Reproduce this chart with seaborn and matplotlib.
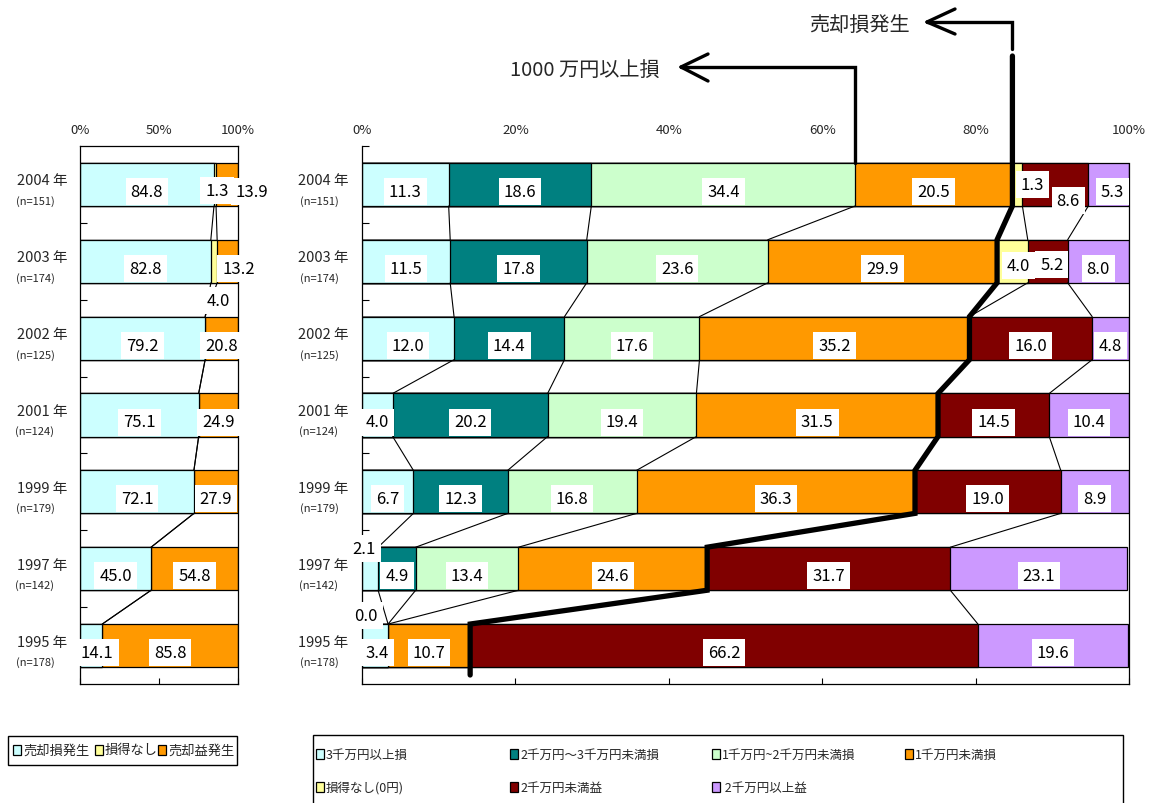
import numpy as np
import pandas as pd
import matplotlib
matplotlib.use("Agg")
import matplotlib.pyplot as plt
import seaborn as sns
from matplotlib.patches import Rectangle

# ---------------- data ----------------
years = ["2004", "2003", "2002", "2001", "1999", "1997", "1995"]
sample_sizes = [151, 174, 125, 124, 179, 142, 178]

left_categories = ["売却損発生", "損得なし", "売却益発生"]
left_loss = [84.8, 82.8, 79.2, 75.1, 72.1, 45.0, 14.1]
left_even = [1.3, 4.0, np.nan, np.nan, np.nan, np.nan, np.nan]
left_gain = [13.9, 13.2, 20.8, 24.9, 27.9, 54.8, 85.8]
left_colors = ["#CCFFFF", "#FFFF99", "#FF9900"]

right_categories = ["3千万円以上損", "2千万円～3千万円未満損", "1千万円~2千万円未満損",
                    "1千万円未満損", "損得なし(0円)", "2千万円未満益", " 2千万円以上益"]
loss_30m_plus = [11.3, 11.5, 12.0, 4.0, 6.7, 2.1, 3.4]
loss_20m_30m = [18.6, 17.8, 14.4, 20.2, 12.3, 4.9, 0.0]
loss_10m_20m = [34.4, 23.6, 17.6, 19.4, 16.8, 13.4, np.nan]
loss_under_10m = [20.5, 29.9, 35.2, 31.5, 36.3, 24.6, 10.7]
even_zero = [1.3, 4.0, np.nan, np.nan, np.nan, np.nan, np.nan]
gain_under_20m = [8.6, 5.2, 16.0, 14.5, 19.0, 31.7, 66.2]
gain_20m_plus = [5.3, 8.0, 4.8, 10.4, 8.9, 23.1, 19.6]
right_colors = ["#CCFFFF", "#008080", "#CCFFCC", "#FF9900", "#FFFF99", "#800000", "#CC99FF"]

left_xticks = [0, 50, 100]
right_xticks = [0, 20, 40, 60, 80, 100]
tick_labels_left = ["0%", "50%", "100%"]
tick_labels_right = ["0%", "20%", "40%", "60%", "80%", "100%"]

annot_loss_big = "1000 万円以上損"
annot_loss = "売却損発生"

# ---------------- style ----------------
sns.set_style("white")
plt.rcParams["font.family"] = ["Noto Sans CJK JP", "DejaVu Sans"]

W, H = 1154, 804
fig = plt.figure(figsize=(W / 100, H / 100), dpi=100)


def fig_rect(x0, y0, x1, y1):
    return [x0 / W, 1 - y1 / H, (x1 - x0) / W, (y1 - y0) / H]


ax_l = fig.add_axes(fig_rect(80, 147, 238, 685))
ax_r = fig.add_axes(fig_rect(362, 147, 1129, 685))

BAR_W = 0.56
HALF = BAR_W / 2

# label offsets (pixels: dx right, dy down) relative to segment centre / bar centre
DEFAULT_OFF = (0, 7)
left_offsets = {(0, 1): (2, 6), (0, 2): (25, 7), (1, 1): (4, 39), (1, 2): (11, 7),
                (6, 0): (6, 7)}
right_offsets = {(0, 4): (15, 0), (0, 5): (13, 16), (0, 6): (4, 7),
                 (1, 4): (6, 4), (1, 5): (4, 3),
                 (5, 0): (-6, -20), (6, 1): (-22, -30), (6, 0): (2, 7)}


def draw_panel(ax, series, colors, offsets):
    vals = np.array(series, dtype=float)
    filled = np.nan_to_num(vals)
    cum = np.cumsum(filled, axis=0)
    ncat = len(series)
    for k in reversed(range(ncat)):
        sub = pd.DataFrame({"year": years, "cum": cum[k]})
        sns.barplot(data=sub, x="cum", y="year", order=years, orient="h",
                    color=colors[k], saturation=1, width=BAR_W,
                    edgecolor="black", linewidth=0.9, errorbar=None, ax=ax, zorder=2)
    # connecting lines
    for k in range(ncat - 1):
        for i in range(len(years) - 1):
            ax.plot([cum[k, i], cum[k, i + 1]], [i + HALF, i + 1 - HALF],
                    color="black", lw=0.8, zorder=3)
    # value labels
    for k in range(ncat):
        for i in range(len(years)):
            v = vals[k, i]
            if np.isnan(v):
                continue
            cx = cum[k, i] - filled[k, i] / 2
            dx, dy = offsets.get((i, k), DEFAULT_OFF)
            ax.annotate(f"{v:.1f}", xy=(cx, i), xytext=(dx, -dy),
                        textcoords="offset pixels", ha="center", va="center",
                        fontsize=12, color="black", zorder=7, annotation_clip=False,
                        bbox=dict(boxstyle="square,pad=0.3", fc="white", ec="none"))
    ax.set_ylim(len(years) - 0.5, -0.5)
    ax.set_xlim(0, 100)
    ax.set_xlabel("")
    ax.set_ylabel("")
    return cum


cum_l = draw_panel(ax_l, [left_loss, left_even, left_gain], left_colors, left_offsets)
cum_r = draw_panel(ax_r, [loss_30m_plus, loss_20m_30m, loss_10m_20m, loss_under_10m,
                          even_zero, gain_under_20m, gain_20m_plus], right_colors, right_offsets)

# axes styling
for ax, ticks, labels in [(ax_l, left_xticks, tick_labels_left),
                          (ax_r, right_xticks, tick_labels_right)]:
    ax.set_xticks(ticks)
    ax.set_xticklabels(labels)
    ax.tick_params(axis="x", top=False, bottom=True, labeltop=True, labelbottom=False,
                   direction="in", length=4, width=0.8, color="black", labelsize=9.5, pad=7)
    for s in ax.spines.values():
        s.set_color("black")
        s.set_linewidth(0.9)
    ax.grid(False)

ax_l.set_yticks([i + 0.5 for i in range(len(years) - 1)])
ax_r.set_yticks([-0.5] + [i + 0.5 for i in range(len(years) - 1)])
for ax in (ax_l, ax_r):
    ax.set_yticklabels([])
    ax.tick_params(axis="y", left=True, direction="in", length=5, width=0.8, color="black")
ax_r.spines["top"].set_visible(False)
ax_r.spines["right"].set_bounds(-HALF, len(years) - 0.5)

# year / n labels
for ax, (yx, nx) in [(ax_l, (-38, -45)), (ax_r, (-39, -43))]:
    for i, (yr, n) in enumerate(zip(years, sample_sizes)):
        ax.annotate(f"{yr} 年", xy=(0, i), xytext=(yx, 4), textcoords="offset pixels",
                    ha="center", va="center", fontsize=10.5, annotation_clip=False)
        ax.annotate(f"(n={n})", xy=(0, i), xytext=(nx, -16), textcoords="offset pixels",
                    ha="center", va="center", fontsize=8, annotation_clip=False)

# ---------------- thick line & arrows (right panel) ----------------
fig.canvas.draw()
inv = ax_r.transData.inverted()


def p2d(px, py):
    return inv.transform((px, H - py))


loss_total = cum_r[3]
big_loss = cum_r[2]
n = len(years)
xs = [loss_total[0]]
ys = [p2d(0, 57)[1]]
for i in range(n):
    xs += [loss_total[i], loss_total[i]]
    ys += [i - HALF if i > 0 else ys[0], i + HALF]
xs.append(loss_total[-1])
ys.append(p2d(0, 676)[1])
ax_r.plot(xs, ys, color="black", lw=3.8, zorder=5, clip_on=False,
          solid_joinstyle="miter")

# 1000万円以上損 arrow
y_a1 = p2d(0, 68)[1]
x_tip1 = p2d(681, 0)[0]
ax_r.plot([big_loss[0], big_loss[0], x_tip1], [-HALF, y_a1, y_a1], color="black",
          lw=2.4, zorder=5, clip_on=False, solid_joinstyle="miter")
for arm_py in (55, 82):
    xa, ya = p2d(708, arm_py)
    ax_r.plot([x_tip1, xa], [y_a1, ya], color="black", lw=2.4, zorder=5,
              clip_on=False, solid_capstyle="round")
tx, ty = p2d(660, 70)
ax_r.text(tx, ty, annot_loss_big, ha="right", va="center", fontsize=14.5,
          clip_on=False)

# 売却損発生 arrow
y_a2 = p2d(0, 23)[1]
y_a2b = p2d(0, 50)[1]
x_tip2 = p2d(927, 0)[0]
ax_r.plot([loss_total[0], loss_total[0], x_tip2], [y_a2b, y_a2, y_a2], color="black",
          lw=2.4, zorder=5, clip_on=False, solid_joinstyle="miter")
for arm_py in (10, 35):
    xa, ya = p2d(955, arm_py)
    ax_r.plot([x_tip2, xa], [y_a2, ya], color="black", lw=2.4, zorder=5,
              clip_on=False, solid_capstyle="round")
tx, ty = p2d(910, 25)
ax_r.text(tx, ty, annot_loss, ha="right", va="center", fontsize=14.5, clip_on=False)

# ---------------- legends (drawn manually) ----------------


def add_box(x0, y0, x1, y1, fc="white", lw=1.0):
    r = Rectangle((x0 / W, 1 - y1 / H), (x1 - x0) / W, (y1 - y0) / H,
                  transform=fig.transFigure, facecolor=fc, edgecolor="black",
                  linewidth=lw, zorder=10)
    fig.add_artist(r)


def add_item(x, yc, color, label, fs):
    add_box(x, yc - 5, x + 8, yc + 5, fc=color, lw=0.9)
    fig.text((x + 10) / W, 1 - yc / H, label, ha="left", va="center",
             fontsize=fs, zorder=11)


add_box(8, 737, 237, 766)
for x, c, lab in zip([13, 95, 158], left_colors, left_categories):
    add_item(x, 751, c, lab, 9.5)

add_box(313, 736, 1123, 806)
right_leg_pos = [(316, 755), (510, 755), (712, 755), (905, 755),
                 (316, 788), (510, 788), (712, 788)]
for (x, yc), c, lab in zip(right_leg_pos, right_colors, right_categories):
    add_item(x, yc, c, lab, 9)

fig.savefig("out.png", dpi=100)
